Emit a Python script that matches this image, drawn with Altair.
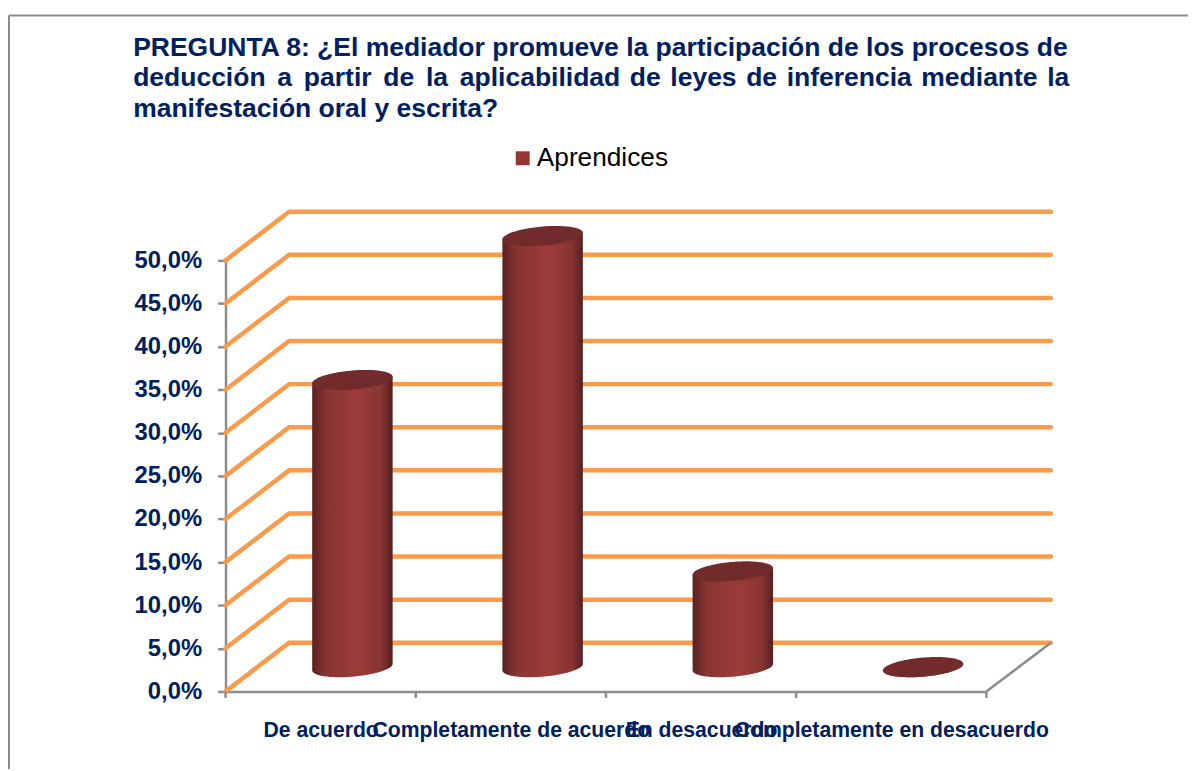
import math
import altair as alt
import pandas as pd

categories = ["De acuerdo", "Completamente de acuerdo", "En desacuerdo", "Completamente en desacuerdo"]
values = [33.3, 50.0, 11.1, 0.0]
series_name = "Aprendices"
y_ticks = [0, 5, 10, 15, 20, 25, 30, 35, 40, 45, 50]
x_ticks = [0, 1, 2, 3, 4]
title_lines = [
    "PREGUNTA 8: ¿El mediador promueve la participación de los procesos de",
    "deducción\u2006 a\u2006 partir\u2006 de\u2006 la\u2006 aplicabilidad\u200a de\u200a leyes\u200a de\u200a inferencia\u200a mediante\u200a la",
    "manifestación oral y escrita?",
]

W, H = 766, 434
PX_X = W / 4
PX_Y = H / 50
DX = 32 / PX_X          # half of the 3-D depth, in x units
DY = 24.5 / PX_Y        # half of the 3-D depth, in y units
RIGHT = 4 + 2 * DX + 0.005
NAVY = "#002060"
ORANGE = "#F99B4B"
GRAY = "#8C8C8C"
FONT = "Liberation Sans"

xs = alt.Scale(domain=[0, 4], nice=False, zero=False)
ys = alt.Scale(domain=[0, 50], nice=False, zero=False)

grid = pd.DataFrame(
    [
        row
        for lv in y_ticks
        for row in (
            {"lv": lv, "x": 0, "y": lv},
            {"lv": lv, "x": 2 * DX, "y": lv + 2 * DY},
            {"lv": lv, "x": RIGHT, "y": lv + 2 * DY},
        )
    ]
)

x_axis = alt.Axis(
    values=[0.5, 1.5, 2.5, 3.5],
    labelExpr="%s[floor(datum.value)]" % str(categories),
    tickSize=0,
    grid=False,
    title=None,
    domainColor=GRAY,
    domainWidth=2.5,
    labelFont=FONT,
    labelFontSize=21.33,
    labelFontWeight="bold",
    labelColor=NAVY,
    labelPadding=28,
    labelOverlap=False,
    labelBound=False,
    labelFlush=False,
    labelLimit=600,
)
y_axis = alt.Axis(
    values=y_ticks,
    labelExpr="replace(format(datum.value,'.1f'),'.',',')+'%'",
    grid=False,
    title=None,
    domainColor=GRAY,
    domainWidth=2.5,
    tickColor=GRAY,
    tickWidth=2.5,
    tickSize=8,
    labelFont=FONT,
    labelFontSize=24,
    labelFontWeight="bold",
    labelColor=NAVY,
    labelPadding=16,
    labelOverlap=False,
    labelBound=False,
    labelFlush=False,
)
X = lambda f: alt.X(f, scale=xs, axis=x_axis)
Y = lambda f: alt.Y(f, scale=ys, axis=y_axis)

grid_layer = (
    alt.Chart(grid)
    .mark_line(color=ORANGE, strokeWidth=4.5, strokeCap="round", strokeJoin="miter")
    .encode(x=X("x:Q"), y=Y("y:Q"), detail="lv:N")
)

tick_df = pd.DataFrame({"x": x_ticks, "y": 0, "y2": -6.5 / PX_Y})
tick_layer = (
    alt.Chart(tick_df)
    .mark_rule(color=GRAY, strokeWidth=2.5)
    .encode(x=X("x:Q"), y=Y("y:Q"), y2="y2:Q")
)

floor_df = pd.DataFrame({"x": [4], "x2": [RIGHT], "y": [0], "y2": [2 * DY]})
floor_layer = (
    alt.Chart(floor_df)
    .mark_rule(color=GRAY, strokeWidth=2.5)
    .encode(x=X("x:Q"), x2="x2:Q", y=Y("y:Q"), y2="y2:Q")
)

A, B, S = 40.5, 9.6, 0.082
N = 60
offsets = [-A * math.cos(math.pi * i / N) for i in range(N + 1)]

body_rows, cap_rows = [], []
for i, (cat, val) in enumerate(zip(categories, values)):
    for o in offsets:
        half = B * math.sqrt(max(0.0, 1 - (o / A) ** 2))
        x = i + 0.5 + DX + o / PX_X
        base = DY + S * o / PX_Y
        body_rows.append({"cat": cat, "x": x, "top": val + base, "bottom": base - half / PX_Y})
        cap_rows.append(
            {"cat": cat, "x": x, "top": val + base + half / PX_Y, "bottom": val + base - half / PX_Y}
        )

body_fill = alt.Gradient(
    gradient="linear",
    x1=0, x2=1, y1=0, y2=0,
    stops=[
        alt.GradientStop(offset=0, color="#5A2222"),
        alt.GradientStop(offset=0.18, color="#873433"),
        alt.GradientStop(offset=0.58, color="#9C3B3A"),
        alt.GradientStop(offset=0.86, color="#873433"),
        alt.GradientStop(offset=1, color="#561F1F"),
    ],
)
body_layer = (
    alt.Chart(pd.DataFrame(body_rows))
    .mark_area(fill=body_fill, orient="vertical", interpolate="linear")
    .encode(x=X("x:Q"), y=Y("top:Q"), y2="bottom:Q", detail="cat:N")
)
cap_layer = (
    alt.Chart(pd.DataFrame(cap_rows))
    .mark_area(color="#722B2B", orient="vertical", interpolate="linear")
    .encode(x=X("x:Q"), y=Y("top:Q"), y2="bottom:Q", detail="cat:N")
)

legend_df = pd.DataFrame({"x": [0.5], "y": [0], "serie": [series_name]})
legend_layer = (
    alt.Chart(legend_df)
    .mark_point(filled=True, opacity=0)
    .encode(
        x=X("x:Q"),
        y=Y("y:Q"),
        color=alt.Color(
            "serie:N",
            scale=alt.Scale(domain=[series_name], range=["#943634"]),
            legend=alt.Legend(
                title=None,
                orient="none",
                legendX=286,
                legendY=-116,
                symbolType="square",
                symbolSize=196,
                symbolOpacity=1,
                symbolStrokeWidth=0,
                labelOffset=1,
                labelFont=FONT,
                labelFontSize=26.4,
                labelColor="black",
                labelLimit=400,
            ),
        ),
    )
)

frame_top = alt.Chart(pd.DataFrame({"k": [0]})).mark_rule(color="#8A8A8A", strokeWidth=2).encode(
    x=alt.value(-218), x2=alt.value(969), y=alt.value(-246.5)
)
frame_left = alt.Chart(pd.DataFrame({"k": [0]})).mark_rule(color="#8A8A8A", strokeWidth=2).encode(
    x=alt.value(-218), y=alt.value(-246.5), y2=alt.value(512)
)

chart = (
    alt.layer(
        grid_layer, floor_layer, tick_layer, body_layer, cap_layer, legend_layer, frame_top, frame_left
    )
    .properties(
        width=W,
        height=H,
        autosize=alt.AutoSizeParams(type="none"),
        padding={"left": 219, "top": 251.5, "right": 203, "bottom": 77.5},
        title=alt.TitleParams(
            text=title_lines,
            anchor="start",
            align="left",
            frame="group",
            dx=-93,
            dy=113,
            font=FONT,
            fontSize=26.67,
            fontWeight="bold",
            color=NAVY,
            lineHeight=31,
        ),
    )
    .configure_view(stroke=None)
)

chart.save("out.html", embed_options={"renderer": "svg", "actions": False})
